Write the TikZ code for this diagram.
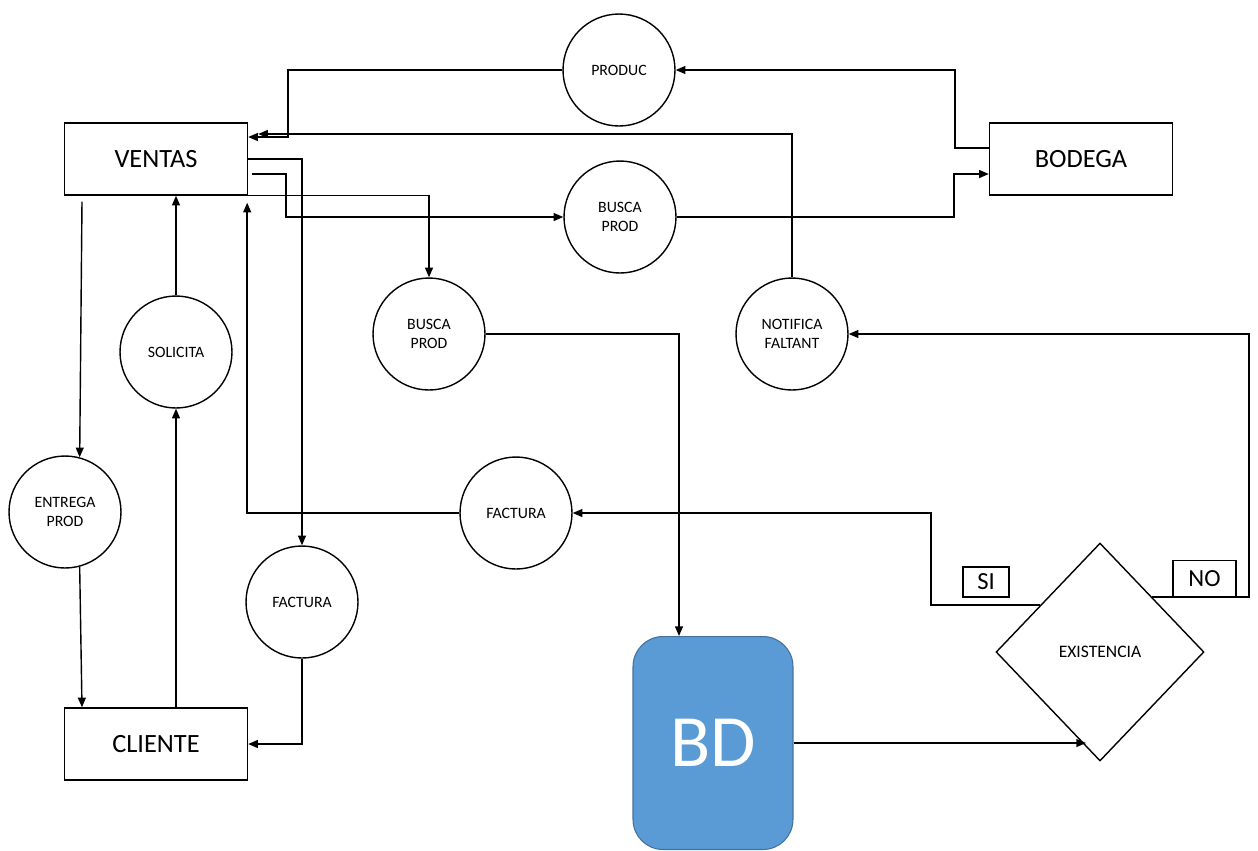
\documentclass[tikz,border=0pt]{standalone}
\usepackage{fontspec}
\setmainfont{Carlito}
\usetikzlibrary{shapes.geometric, arrows.meta, positioning, calc}
\definecolor{bdfill}{HTML}{5B9BD5}
\definecolor{bdline}{HTML}{41719C}

\begin{document}
\begin{tikzpicture}[x=0.02cm, y=-0.02cm,
    box/.style={draw, line width=0.8pt, minimum width=3.66cm, minimum height=1.44cm, font=\fontsize{15}{18}\selectfont},
    proc/.style={draw, circle, line width=0.8pt, minimum size=2.24cm, inner sep=0pt, align=center, font=\fontsize{9}{11}\selectfont},
    lbl/.style={draw, line width=0.8pt, inner sep=0pt, font=\fontsize{14}{16}\selectfont},
    arrow/.style={-{Triangle[length=5.5pt, width=4.5pt]}, line width=0.8pt}
]
    \useasboundingbox (0,0) rectangle (1258,850);

    \node[box] (ventas)  at (156,159)  {VENTAS};
    \node[box] (cliente) at (156,744)  {CLIENTE};
    \node[box] (bodega)  at (1081,159) {BODEGA};

    \node[proc] (produc)   at (619,70)  {PRODUC};
    \node[proc] (buscaA)   at (620,217) {BUSCA\\PROD};
    \node[proc] (buscaB)   at (429,334) {BUSCA\\PROD};
    \node[proc] (notifica) at (792,334) {NOTIFICA\\FALTANT};
    \node[proc] (solicita) at (176,352) {SOLICITA};
    \node[proc] (entrega)  at (65,512)  {ENTREGA\\PROD};
    \node[proc] (facturaA) at (516,513) {FACTURA};
    \node[proc] (facturaB) at (302,602) {FACTURA};

    \node[draw=bdline, fill=bdfill, line width=0.6pt, rounded corners=0.6cm, minimum width=3.2cm, minimum height=4.26cm,
          text=white, font=\fontsize{42}{50}\selectfont] (bd) at (713,743) {BD};
    \node[draw, diamond, line width=0.8pt, minimum width=4.16cm, minimum height=4.36cm, inner sep=0pt,
          font=\fontsize{10}{12}\selectfont] (exist) at (1100,652) {EXISTENCIA};

    \node[lbl, minimum width=0.92cm, minimum height=0.6cm]  (si) at (986,582)    {SI};
    \node[lbl, minimum width=1.26cm, minimum height=0.74cm] (no) at (1204.5,579) {NO};

    \coordinate (exin) at (1086,743);

    \draw[arrow] (produc.west) -| (288,137) -- (ventas.east |- 0,137);
    \draw[arrow] (notifica.north) |- ($(ventas.east |- 0,134)+(10,0)$);
    \draw[arrow] (bodega.west |- 0,148) -- (955,148) |- (produc.east);
    \draw[arrow] (buscaA.east) -- (954,217) |- (bodega.west |- 0,174);
    \draw[arrow] ($(ventas.east |- 0,174)+(4,0)$) -- (286,174) |- (buscaA.west);
    \draw[arrow] (ventas.east) -| (facturaB.north);
    \draw[arrow] (215,0 |- ventas.south) -| (buscaB.north);
    \draw[arrow] (facturaA.west) -| ($(ventas.south east)+(-1,7)$);
    \draw[arrow] (solicita.north) -- (solicita.north |- ventas.south);
    \draw[arrow] ($(82,0 |- ventas.south)+(0,6)$) -- (entrega.75);
    \draw[arrow] (entrega.-75) -- (82,0 |- cliente.north);
    \draw[arrow] (cliente.north -| solicita) -- (solicita.south);
    \draw[arrow] (facturaB.south) |- (cliente.east);
    \draw[arrow] (buscaB.east) -| (679,0 |- bd.north);
    \draw[arrow] (bd.east) -- (exin);
    \draw[arrow] ($(exist.north)!0.57!(exist.west)$) -| (931,513) -- (facturaA.east);
    \draw[arrow] ($(exist.north)!0.5!(exist.east)$) -| (1249,334) -- (notifica.east);
\end{tikzpicture}
\end{document}
